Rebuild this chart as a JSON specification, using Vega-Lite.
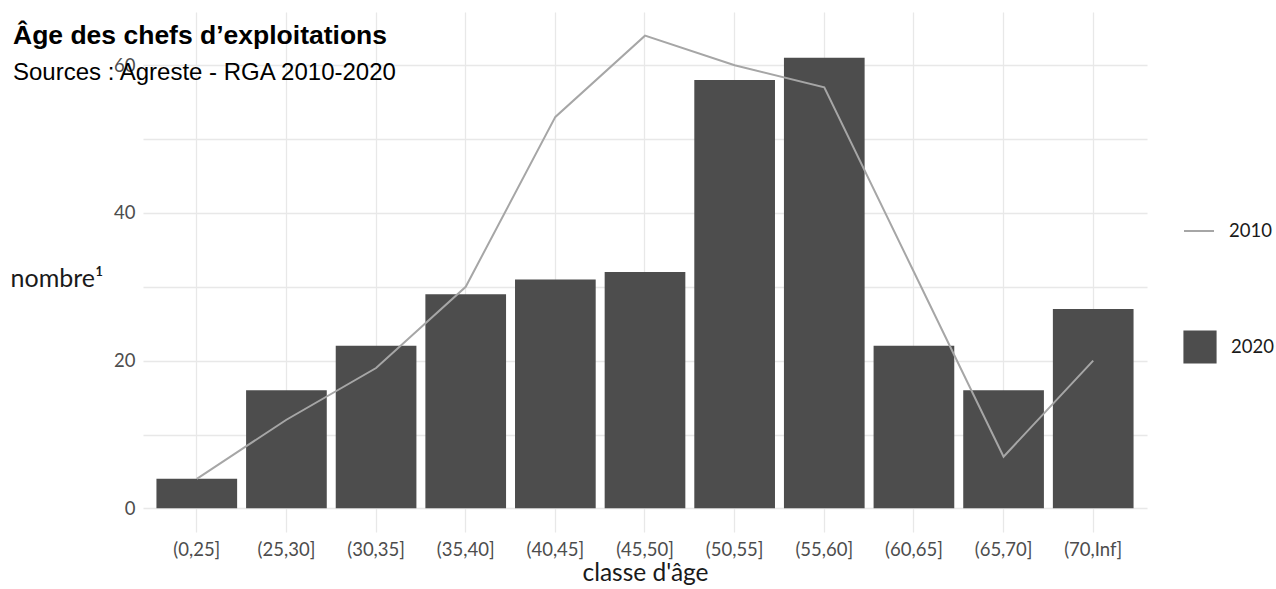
{
  "$schema": "https://vega.github.io/schema/vega-lite/v6.json",
  "width": 1004,
  "height": 520,
  "autosize": {"type": "none"},
  "padding": {"left": 143, "top": 12, "right": 129, "bottom": 57},
  "background": "white",
  "title": {
    "text": "Âge des chefs d’exploitations",
    "subtitle": "Sources : Agreste - RGA 2010-2020",
    "anchor": "start",
    "frame": "group",
    "dx": -130,
    "dy": 77,
    "font": "Liberation Sans",
    "fontSize": 26.5,
    "fontWeight": "bold",
    "color": "#000000",
    "subtitleFont": "Liberation Sans",
    "subtitleFontSize": 24,
    "subtitleColor": "#000000",
    "subtitlePadding": 12
  },
  "config": {
    "view": {"stroke": null},
    "font": "Lato"
  },
  "data": {
    "values": [
      {"classe": "(0,25]", "annee": "2020", "nombre": 4},
      {"classe": "(25,30]", "annee": "2020", "nombre": 16},
      {"classe": "(30,35]", "annee": "2020", "nombre": 22},
      {"classe": "(35,40]", "annee": "2020", "nombre": 29},
      {"classe": "(40,45]", "annee": "2020", "nombre": 31},
      {"classe": "(45,50]", "annee": "2020", "nombre": 32},
      {"classe": "(50,55]", "annee": "2020", "nombre": 58},
      {"classe": "(55,60]", "annee": "2020", "nombre": 61},
      {"classe": "(60,65]", "annee": "2020", "nombre": 22},
      {"classe": "(65,70]", "annee": "2020", "nombre": 16},
      {"classe": "(70,Inf]", "annee": "2020", "nombre": 27},
      {"classe": "(0,25]", "annee": "2010", "nombre": 4},
      {"classe": "(25,30]", "annee": "2010", "nombre": 12},
      {"classe": "(30,35]", "annee": "2010", "nombre": 19},
      {"classe": "(35,40]", "annee": "2010", "nombre": 30},
      {"classe": "(40,45]", "annee": "2010", "nombre": 53},
      {"classe": "(45,50]", "annee": "2010", "nombre": 64},
      {"classe": "(50,55]", "annee": "2010", "nombre": 60},
      {"classe": "(55,60]", "annee": "2010", "nombre": 57},
      {"classe": "(60,65]", "annee": "2010", "nombre": 32},
      {"classe": "(65,70]", "annee": "2010", "nombre": 7},
      {"classe": "(70,Inf]", "annee": "2010", "nombre": 20}
    ]
  },
  "encoding": {
    "x": {
      "field": "classe",
      "type": "nominal",
      "sort": null,
      "scale": {"paddingInner": 0.1, "paddingOuter": 0.15},
      "axis": {
        "title": "classe d'âge",
        "titleFont": "Lato",
        "titleFontSize": 24.5,
        "titleFontWeight": "normal",
        "titleColor": "#1a1a1a",
        "titlePadding": 3,
        "labelAngle": 0,
        "labelFont": "Lato",
        "labelFontSize": 18.5,
        "labelColor": "#4d4d4d",
        "labelPadding": 8,
        "domain": false,
        "ticks": false,
        "grid": true,
        "gridColor": "#e8e8e8",
        "gridWidth": 1.3,
        "bandPosition": 0.5
      }
    },
    "y": {
      "field": "nombre",
      "type": "quantitative",
      "scale": {"domain": [-3.2, 67.2], "nice": false, "zero": false},
      "axis": {
        "title": "nombre¹",
        "titleAngle": 0,
        "titleFont": "Lato",
        "titleFontSize": 25,
        "titleFontWeight": "normal",
        "titleColor": "#1a1a1a",
        "titleAlign": "left",
        "titleBaseline": "middle",
        "titleX": -133,
        "titleY": 266,
        "values": [0, 10, 20, 30, 40, 50, 60],
        "labelExpr": "datum.value % 20 === 0 ? datum.label : ''",
        "labelFont": "Lato",
        "labelFontSize": 18.5,
        "labelColor": "#4d4d4d",
        "labelPadding": 8,
        "domain": false,
        "ticks": false,
        "grid": true,
        "gridColor": "#e8e8e8",
        "gridWidth": 1.3
      }
    }
  },
  "layer": [
    {
      "transform": [{"filter": "datum.annee === '2020'"}],
      "mark": {"type": "bar"},
      "encoding": {
        "fill": {
          "field": "annee",
          "type": "nominal",
          "scale": {"domain": ["2020"], "range": ["#4d4d4d"]},
          "legend": {
            "title": null,
            "orient": "none",
            "legendX": 1040,
            "legendY": 318,
            "symbolType": "square",
            "symbolSize": 1100,
            "symbolStrokeWidth": 0,
            "labelFont": "Lato",
            "labelFontSize": 18.5,
            "labelColor": "#1a1a1a",
            "labelOffset": 14
          }
        }
      }
    },
    {
      "transform": [{"filter": "datum.annee === '2010'"}],
      "mark": {"type": "line", "strokeWidth": 2},
      "encoding": {
        "stroke": {
          "field": "annee",
          "type": "nominal",
          "scale": {"domain": ["2010"], "range": ["#a6a6a6"]},
          "legend": {
            "title": null,
            "orient": "none",
            "legendX": 1040,
            "legendY": 203,
            "symbolType": "stroke",
            "symbolSize": 900,
            "symbolStrokeWidth": 2,
            "labelFont": "Lato",
            "labelFontSize": 18.5,
            "labelColor": "#1a1a1a",
            "labelOffset": 14
          }
        }
      }
    }
  ]
}
